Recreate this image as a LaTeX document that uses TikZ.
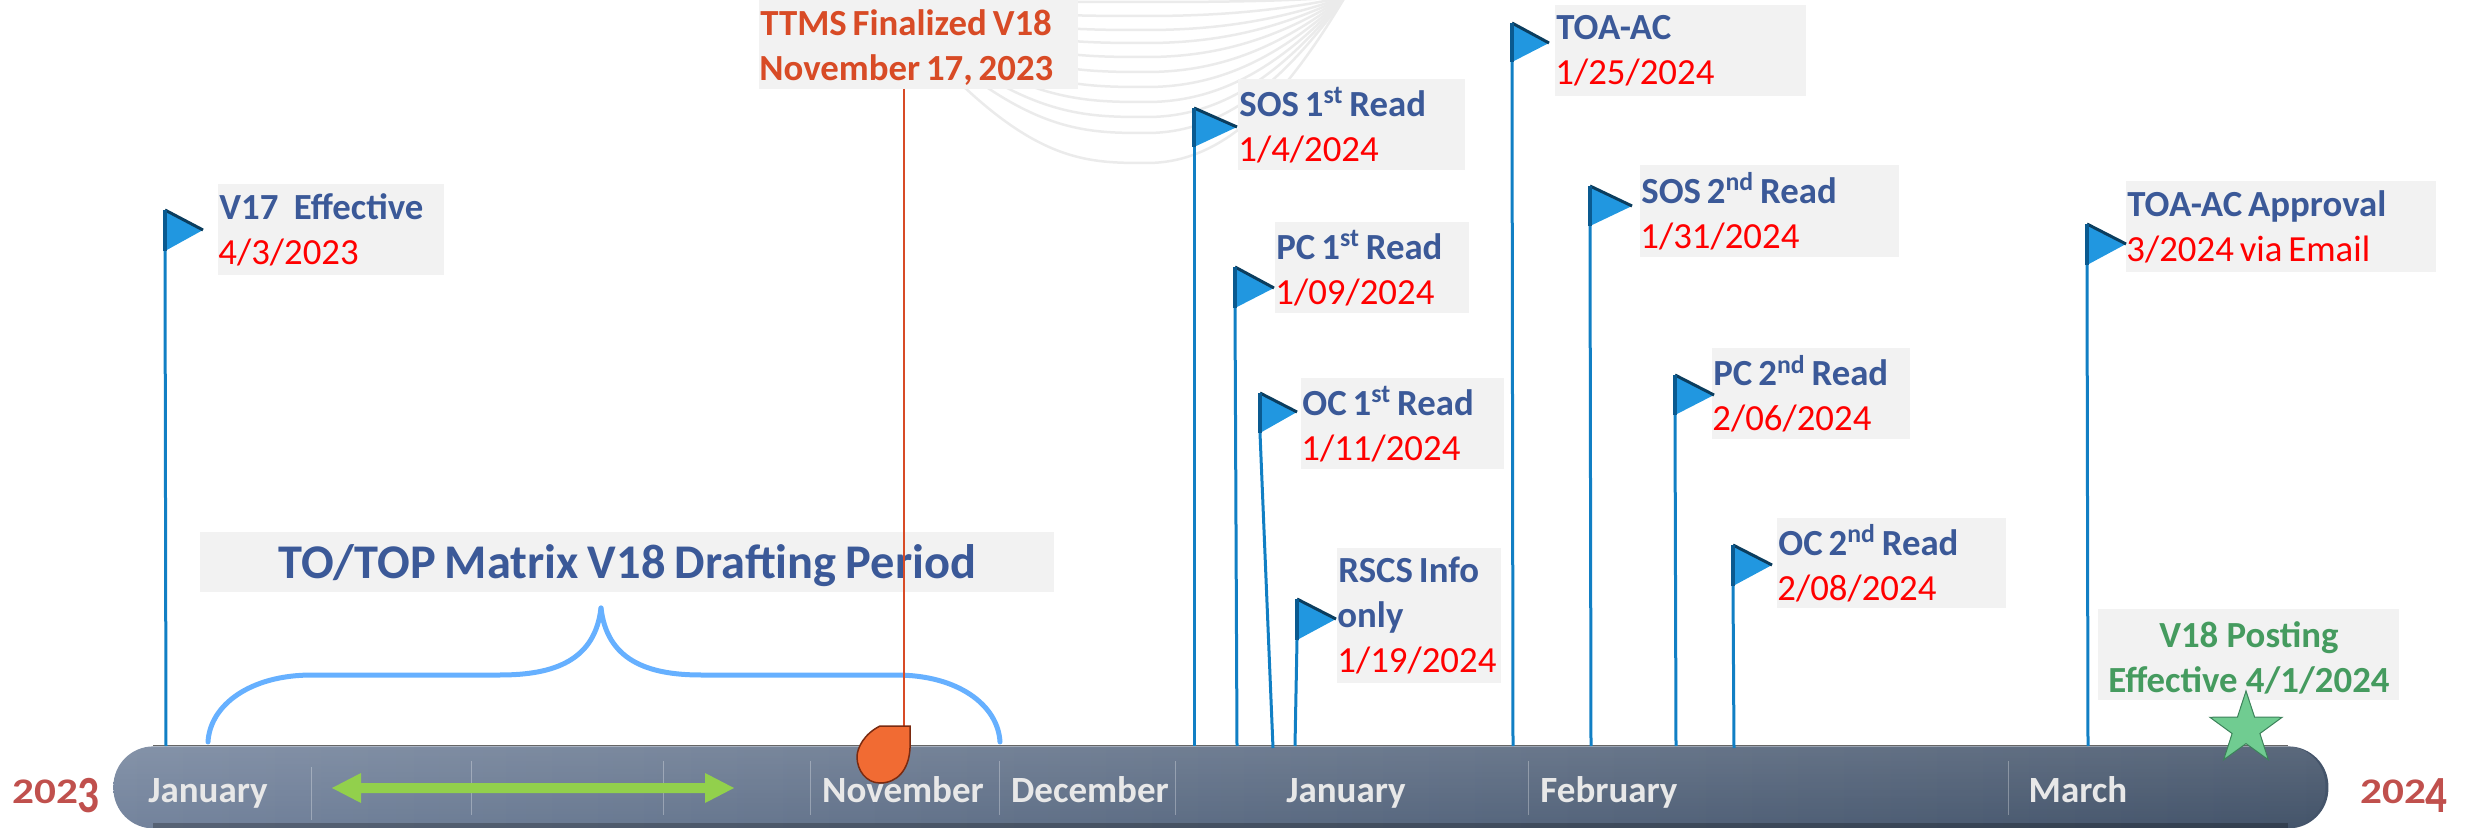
\documentclass[tikz,border=0pt]{standalone}
\usepackage{fontspec}
\setmainfont{Carlito}
\newfontfamily\yearfont[FakeStretch=1.2]{Carlito}
\usetikzlibrary{shapes.geometric,fadings}
\definecolor{boxgray}{HTML}{F2F2F2}
\definecolor{headblue}{HTML}{3B5998}
\definecolor{dategreen}{HTML}{459B5F}
\definecolor{ttms}{HTML}{D84B26}
\definecolor{polecol}{HTML}{117FC4}
\definecolor{flagcol}{HTML}{2197E0}
\definecolor{flagtop}{HTML}{0B3D5E}
\definecolor{flagleft}{HTML}{0A5A90}
\definecolor{bracecol}{HTML}{66B0FF}
\definecolor{yearcol}{HTML}{C0504D}
\definecolor{monthcol}{HTML}{E8E8E8}
\definecolor{barA}{HTML}{74849D}
\definecolor{barB}{HTML}{4E5D75}
\definecolor{barC}{HTML}{44546A}
\definecolor{arrowgreen}{HTML}{92D04C}
\definecolor{dropfill}{HTML}{F16B33}
\definecolor{dropedge}{HTML}{7A2A10}
\definecolor{starfill}{HTML}{70CC91}
\definecolor{staredge}{HTML}{3C825A}
\definecolor{swirlcol}{HTML}{EBEBEB}
\newcommand{\lblfont}{\fontsize{18.4}{22.5}\selectfont}
\newcommand{\tightsp}{\spaceskip=.16em\relax}
\newcommand{\titlefont}{\fontsize{24.2}{30}\selectfont\bfseries\spaceskip=.19em\relax}
\tikzset{
  lblbox/.style={fill=boxgray,anchor=north west,inner sep=0pt,align=left,font=\lblfont},
  ctrbox/.style={fill=boxgray,anchor=north west,inner sep=0pt,align=center,font=\lblfont\bfseries},
  polestyle/.style={draw=polecol,line width=1.5pt},
  swirl/.style={draw=swirlcol,line width=1.25pt},
  monthlbl/.style={text=monthcol,anchor=base,font=\fontsize{18.5}{22}\selectfont\bfseries,inner sep=0pt},
  yearlbl/.style={text=yearcol,anchor=base,font=\fontsize{18}{22}\selectfont\bfseries\yearfont,inner sep=0pt},
  sepline/.style={draw=white,draw opacity=.3,line width=.5pt},
  bracestroke/.style={draw=bracecol,line width=2.5pt,line cap=round},
}
\newcommand{\hd}[1]{{\bfseries\color{headblue}#1}}
\newcommand{\dt}[1]{{\color{red}#1}}
\newcommand{\lowd}[1]{\raisebox{-5pt}{\scalebox{1}[1.45]{#1}}}
\newcommand{\lowtext}[1]{\raisebox{-1.5pt}[\height][\depth]{#1}}
\newcommand{\lblnode}[6]{%
  \pgfmathsetmacro\lblW{(#4-#2)*0.5-1}%
  \pgfmathsetmacro\lblH{(#5-#3)*0.5}%
  \node[lblbox,text width=\lblW pt,minimum height=\lblH pt] (#1) at (#2,#3) {\tightsp\hspace*{0.5pt}\ignorespaces #6};}
\newcommand{\flagmark}[8]{%
  \coordinate (#1-foot) at (#2,#6);
  \coordinate (#1-base) at (#7,#8);
  \draw[polestyle] (#1-foot) -- (#1-base);
  \fill[flagcol] (#2,#3) -- (#4,#5) -- (#2,#6) -- cycle;
  \draw[flagtop,line width=1.5pt] (#2,#3) -- (#4,#5);
  \draw[flagleft,line width=1.75pt] (#2,#3) -- (#2,#6);
}
\begin{document}
\begin{tikzpicture}[x=0.5pt,y=-0.5pt]
\useasboundingbox (0,0) rectangle (2470,828);
% background swirl
\foreach \b in {163,133,117,102,87,72,57,43,30,16,2}
  \draw[swirl] (950,\b*0.45) .. controls (1040,\b) and (1090,\b) .. (1147,\b)
     .. controls (1225,\b) and (1285,\b*0.6) .. (1345,-3);
% brace
\draw[bracestroke] (208,742) .. controls (210,705) and (250,675) .. (312,675) -- (500,675)
    .. controls (555,675) and (595,660) .. (601,608);
\draw[bracestroke] (1000,742) .. controls (998,705) and (958,675) .. (896,675) -- (701,675)
    .. controls (647,675) and (607,660) .. (601,608);
% bar
\node[rounded corners=20pt,left color=barA,middle color=barB,right color=barC,
      minimum width=1107.5pt,minimum height=41pt,inner sep=0pt,anchor=north west] (bar) at (113,746) {};
\fill[white,opacity=.12,path fading=south,rounded corners=20pt] (113,746) rectangle (2328,828);
\draw[black!60!white,line width=.75pt] (153,745.5) -- (2288,745.5);
\fill[black,opacity=.25] (153,823) rectangle (2288,828);
\foreach \x/\a/\b in {311/767/820,471/761/815,663/761/815,810/761/815,999/761/815,1175/761/815,1528/761/815,2008/761/815}
  \draw[sepline] (\x,\a) -- (\x,\b);
% green double arrow
\fill[arrowgreen] (332,788) -- (361,773) -- (361,783) -- (705,783) -- (705,773) -- (734,788) -- (705,803) -- (705,793) -- (361,793) -- (361,803) -- cycle;
% months
\node[monthlbl] (m1) at (208,802) {January};
\node[monthlbl] (m2) at (903,802) {November};
\node[monthlbl] (m3) at (1090,802) {December};
\node[monthlbl] (m4) at (1346,802) {January};
\node[monthlbl] (m5) at (1609,802) {February};
\node[monthlbl] (m6) at (2078,802) {March};
% years
\node[yearlbl] (y1) at (56,803) {202\lowd{3}};
\node[yearlbl] (y2) at (2404,803) {202\lowd{4}};
% title
\node[fill=boxgray,inner sep=0pt,minimum width=427pt,minimum height=30pt,anchor=north west,
      text=headblue,font=\titlefont] (title) at (200,532) {\lowtext{TO/TOP Matrix V18 Drafting Period}};
% TTMS
\lblnode{ttmsbox}{759}{0}{1080}{89}{\lowtext{\bfseries\color{ttms}TTMS Finalized V18}\\\lowtext{\bfseries\color{ttms}November 17, 2023}}
\coordinate (ttmsbase) at (904,740);
\draw[ttms,line width=1.25pt] (904,89) -- (ttmsbase);
\draw[fill=dropfill,draw=dropedge,line width=.75pt] (910,726) -- (880,726)
  .. controls (864,734) and (857,748) .. (857,757) .. controls (857,770) and (866,783) .. (880,783)
  .. controls (897,783) and (909,770) .. (910,748) -- cycle;
% label boxes
\lblnode{v17}{218}{184}{446}{275}{\hd{V17\hspace{.42em}Effective}\\\dt{4/3/2023}}
\lblnode{sos1}{1238}{79}{1467}{170}{\hd{SOS 1\textsuperscript{st} Read}\\\dt{1/4/2024}}
\lblnode{pc1}{1275}{222}{1471}{313}{\hd{PC 1\textsuperscript{st} Read}\\\dt{1/09/2024}}
\lblnode{oc1}{1301}{378}{1506}{469}{\hd{OC 1\textsuperscript{st} Read}\\\dt{1/11/2024}}
\lblnode{rscs}{1337}{548}{1503}{683}{\hd{RSCS Info}\\\hd{only}\\\dt{1/19/2024}}
\lblnode{toa}{1555}{5}{1808}{96}{\hd{TOA-AC}\\\dt{1/25/2024}}
\lblnode{sos2}{1640}{165}{1901}{257}{\hd{SOS 2\textsuperscript{nd} Read}\\\dt{1/31/2024}}
\lblnode{pc2}{1712}{348}{1912}{439}{\hd{PC 2\textsuperscript{nd} Read}\\\dt{2/06/2024}}
\lblnode{oc2}{1777}{518}{2008}{608}{\hd{OC 2\textsuperscript{nd} Read}\\\dt{2/08/2024}}
\lblnode{toaa}{2126}{181}{2438}{272}{\hd{TOA-AC Approval}\\\dt{3/2024 via Email}}
\node[ctrbox,text=dategreen,minimum width=150.5pt,minimum height=45.5pt] (v18) at (2098,609) {\lowtext{V18 Posting}\\\lowtext{Effective 4/1/2024}};
% flags
\flagmark{fa}{165}{210}{203}{230}{251}{166}{746}
\flagmark{fb}{1194}{108}{1237}{127}{147}{1194}{746}
\flagmark{fc}{1235}{267}{1274}{288}{308}{1237}{746}
\flagmark{fd}{1260}{393}{1297}{412}{433}{1273}{748}
\flagmark{fe}{1297}{599}{1336}{619}{640}{1295}{746}
\flagmark{ff}{1512}{23}{1549}{43}{62}{1513}{746}
\flagmark{fg}{1590}{186}{1632}{206}{226}{1591}{746}
\flagmark{fh}{1675}{375}{1714}{395}{415}{1676}{746}
\flagmark{fi}{1733}{545}{1772}{565}{586}{1734}{748}
\flagmark{fj}{2087}{224}{2126}{244}{265}{2088}{746}
% star
\node[star,star points=5,star point ratio=2.6,minimum size=38pt,inner sep=0pt,
      fill=starfill,draw=staredge,line width=.5pt] (star) at (2246,729) {};
\end{tikzpicture}
\end{document}
